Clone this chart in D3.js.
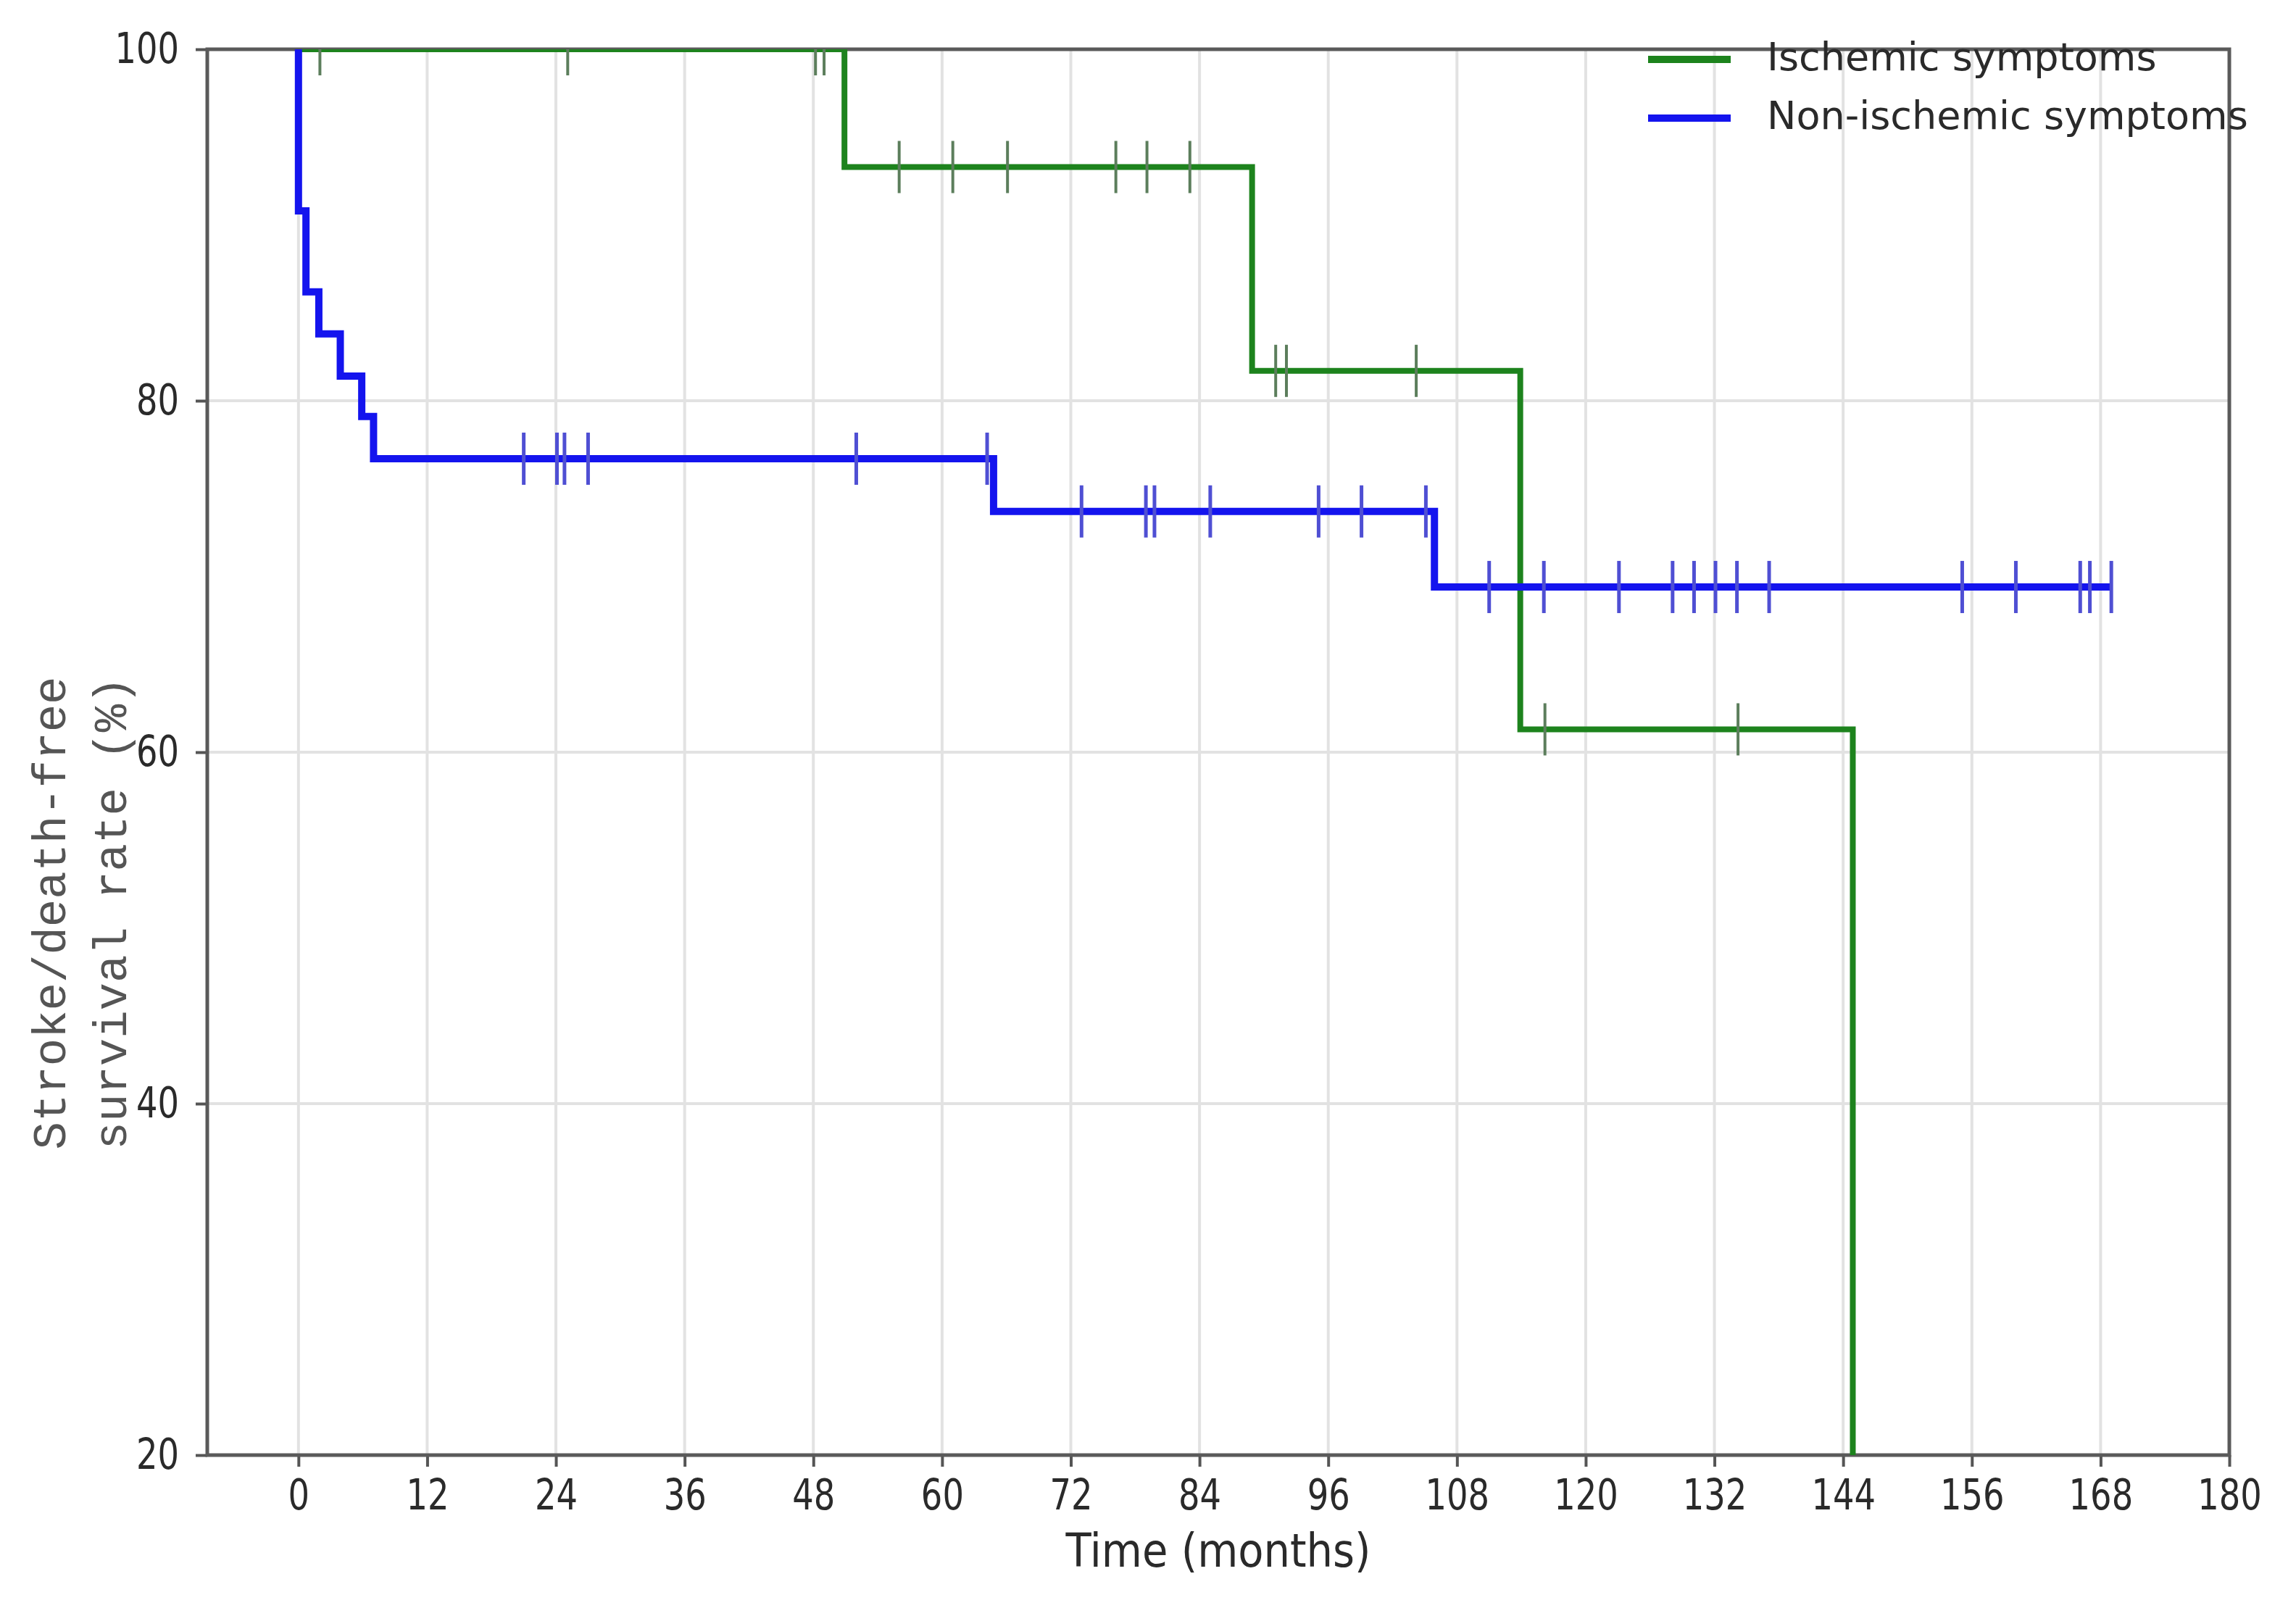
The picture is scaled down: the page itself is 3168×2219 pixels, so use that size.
<!DOCTYPE html>
<html>
<head>
<meta charset="utf-8">
<script src="https://cdn.jsdelivr.net/npm/d3@7"></script>
<style>
  body { margin: 0; background: #fff; }
  .tick text { fill: #2a2a2a; font-family: "DejaVu Sans", sans-serif; }
</style>
</head>
<body>
<script>
// Kaplan-Meier curves (time in months, survival in %)
var ischTimes = [0, 50.9, 88.9, 113.9, 144.9];
var ischSurv = [100, 93.3, 81.7, 61.3, 0];
var ischCensor = [2.0, 25.1, 48.2, 49.0, 56.0, 61.0, 66.1, 76.2, 79.1, 83.1, 91.1, 92.1, 104.2, 116.2, 134.2];

var nonTimes = [0, 0, 0.7, 1.9, 3.9, 5.9, 7.0, 64.8, 105.9];
var nonSurv = [100, 90.8, 86.2, 83.8, 81.4, 79.1, 76.7, 73.7, 69.4];
var nonCensor = [21.0, 24.1, 24.8, 27.0, 52.0, 64.2, 73.0, 79.0, 79.8, 85.0, 95.1, 99.1, 105.1,
                 111.0, 116.1, 123.1, 128.1, 130.1, 132.1, 134.1, 137.1, 155.1, 160.1, 166.1, 167.0, 169.0];
var nonEnd = 169.0;

var seriesNames = ["Ischemic symptoms", "Non-ischemic symptoms"];
var xTicks = d3.range(0, 181, 12);
var yTicks = [20, 40, 60, 80, 100];

// set the dimensions and margins of the graph
var W = 3168, H = 2219;
var margin = {top: 68, right: 92, bottom: 211, left: 286};
var width = W - margin.left - margin.right;
var height = H - margin.top - margin.bottom;
var sq = 0.8; // the labels look squeezed sideways

var x = d3.scaleLinear().domain([-8.5, 180]).range([0, width]);
var y = d3.scaleLinear().domain([20, 100]).range([height, 0]);

var svg = d3.select("body").append("svg")
    .attr("width", W)
    .attr("height", H)
  .append("g")
    .attr("transform", "translate(" + margin.left + "," + margin.top + ")");

svg.append("clipPath").attr("id", "plot")
  .append("rect").attr("width", width).attr("height", height);

// grid
svg.append("g").selectAll("line").data(xTicks).enter().append("line")
    .attr("x1", function(d) { return x(d); }).attr("x2", function(d) { return x(d); })
    .attr("y1", 0).attr("y2", height)
    .attr("stroke", "#e2e2e2").attr("stroke-width", 4);
svg.append("g").selectAll("line").data(yTicks).enter().append("line")
    .attr("x1", 0).attr("x2", width)
    .attr("y1", function(d) { return y(d); }).attr("y2", function(d) { return y(d); })
    .attr("stroke", "#e2e2e2").attr("stroke-width", 4);

// axes
var xAxis = svg.append("g")
    .attr("transform", "translate(0," + height + ")")
    .call(d3.axisBottom(x).tickValues(xTicks).tickSize(16).tickPadding(18).tickSizeOuter(0));
xAxis.selectAll("text").style("font-size", "58px").attr("transform", "scale(" + sq + ",1)");

var yAxis = svg.append("g")
    .call(d3.axisLeft(y).tickValues(yTicks).tickSize(16).tickSizeOuter(0));
yAxis.selectAll("text").style("font-size", "58px")
    .attr("x", -39 / sq).attr("transform", "scale(" + sq + ",1)");

svg.selectAll(".domain").remove();
svg.selectAll(".tick line").attr("stroke", "#555").attr("stroke-width", 4);

// frame
svg.append("rect")
    .attr("width", width).attr("height", height)
    .attr("fill", "none").attr("stroke", "#5a5a5a").attr("stroke-width", 5);

// step function helper
function stepPoints(times, surv, end) {
  var pts = [];
  for (var i = 0; i < times.length; i++) {
    if (i > 0) pts.push([times[i], surv[i - 1]]);
    pts.push([times[i], surv[i]]);
  }
  if (end != null) pts.push([end, surv[surv.length - 1]]);
  return pts;
}
function survAt(times, surv, t) {
  var v = surv[0];
  for (var i = 0; i < times.length; i++) if (times[i] <= t) v = surv[i];
  return v;
}

var line = d3.line()
    .x(function(d) { return x(d[0]); })
    .y(function(d) { return y(d[1]); });

var plot = svg.append("g").attr("clip-path", "url(#plot)");

var curves = [
  {times: ischTimes, surv: ischSurv, censor: ischCensor, end: null, color: "#1d831d", width: 8, tick: "#5c7e5c", tickW: 4},
  {times: nonTimes, surv: nonSurv, censor: nonCensor, end: nonEnd, color: "#1414ee", width: 10, tick: "#4f4fd3", tickW: 5}
];

curves.forEach(function(c) {
  plot.append("path")
      .datum(stepPoints(c.times, c.surv, c.end))
      .attr("fill", "none")
      .attr("stroke", c.color)
      .attr("stroke-width", c.width)
      .attr("d", line);
  plot.selectAll(null).data(c.censor).enter().append("line")
      .attr("x1", function(d) { return x(d); })
      .attr("x2", function(d) { return x(d); })
      .attr("y1", function(d) { return y(survAt(c.times, c.surv, d)) - 36; })
      .attr("y2", function(d) { return y(survAt(c.times, c.surv, d)) + 36; })
      .attr("stroke", c.tick)
      .attr("stroke-width", c.tickW);
});

// legend (no frame, top right)
var legend = svg.append("g").attr("transform", "translate(" + (2274 - margin.left) + "," + (82 - margin.top) + ")");
seriesNames.forEach(function(name, i) {
  var g = legend.append("g").attr("transform", "translate(0," + (i * 81) + ")");
  g.append("line").attr("x1", 0).attr("x2", 114).attr("y1", 0).attr("y2", 0)
      .attr("stroke", curves[i].color).attr("stroke-width", 10);
  g.append("text")
      .attr("x", 164).attr("y", 15)
      .style("font-family", "DejaVu Sans, sans-serif")
      .style("font-size", "54px")
      .attr("fill", "#2a2a2a")
      .text(name);
});

// text label for the x axis
svg.append("text")
    .attr("transform", "translate(" + (width / 2) + "," + (2162 - margin.top) + ") scale(0.9,1)")
    .style("text-anchor", "middle")
    .style("font-family", "DejaVu Sans, sans-serif")
    .style("font-size", "64px")
    .attr("fill", "#2a2a2a")
    .text("Time (months)");

// text label for the y axis (two lines, monospace)
var yLab = svg.append("text")
    .attr("transform", "translate(" + (68 - margin.left) + "," + (1260 - margin.top) + ") rotate(-90)")
    .style("text-anchor", "middle")
    .style("font-family", "Liberation Mono, monospace")
    .style("font-size", "64px")
    .attr("fill", "#555")
    .text(null);
yLab.append("tspan").attr("x", 0).attr("dy", "0.35em").text("Stroke/death-free");
yLab.append("tspan").attr("x", 0).attr("dy", "84px").text("survival rate (%)");
</script>
</body>
</html>
